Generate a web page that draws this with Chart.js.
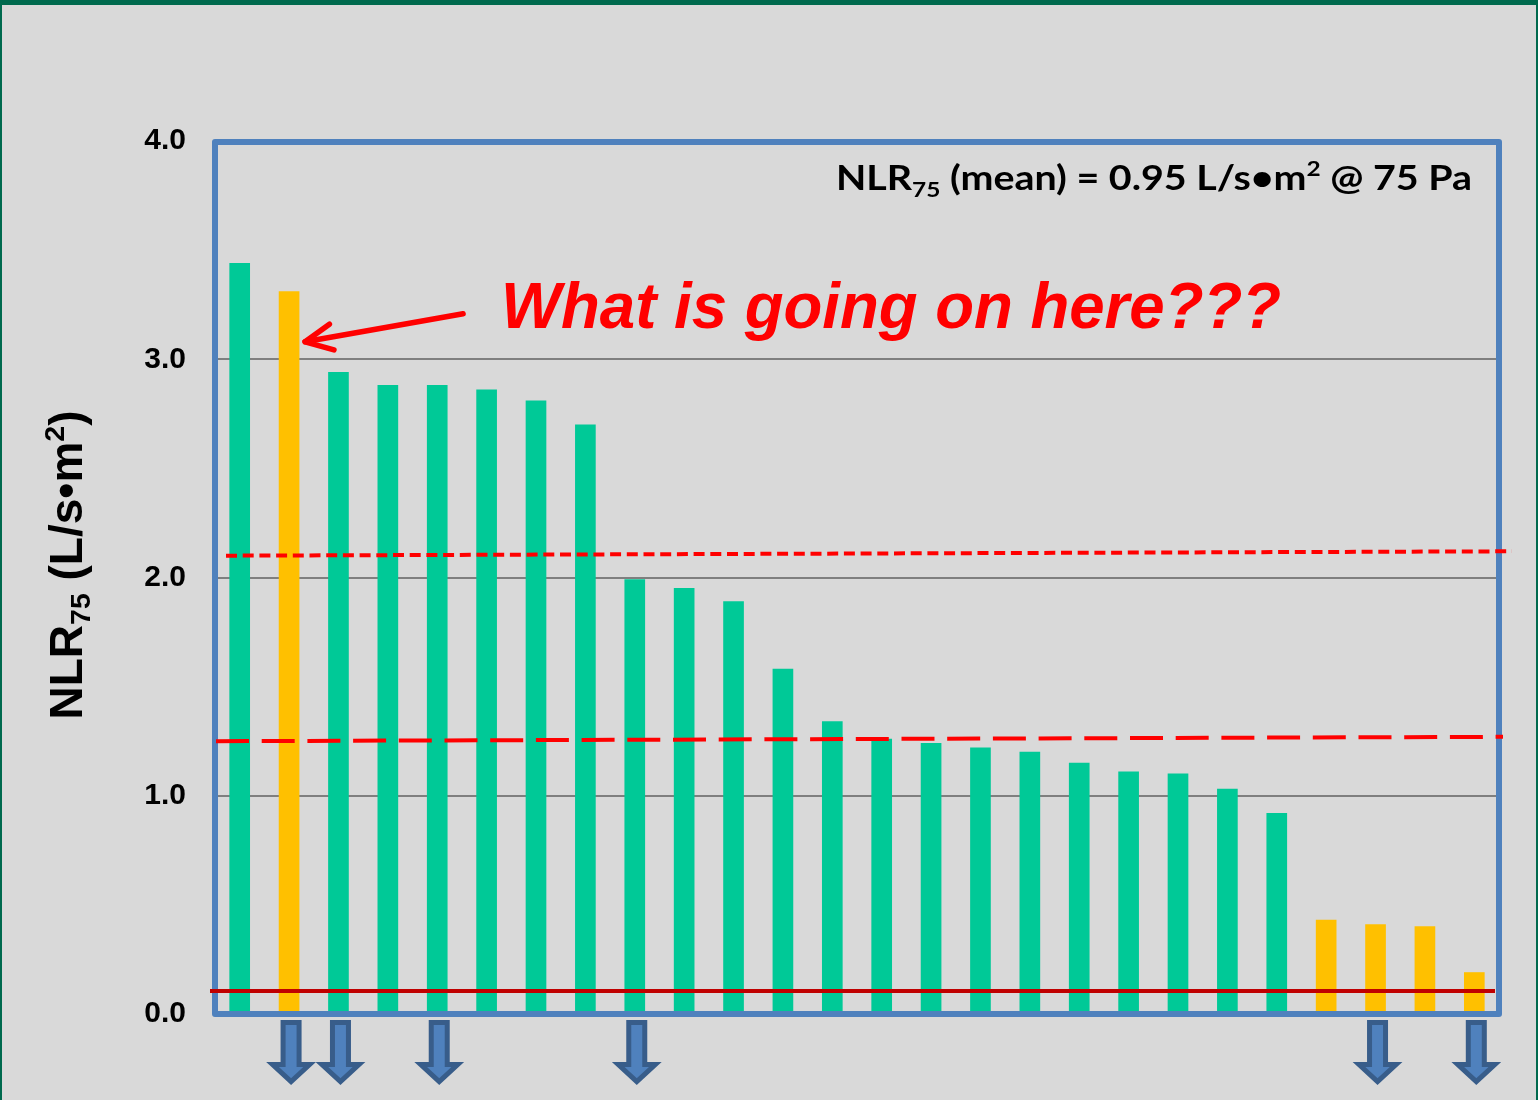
<!DOCTYPE html>
<html>
<head>
<meta charset="utf-8">
<title>NLR75 by house</title>
<script src="https://cdn.jsdelivr.net/npm/chart.js@4.4.1/dist/chart.umd.min.js"></script>
<style>
  html, body { margin: 0; padding: 0; background: #d9d9d9; overflow: hidden; }
  canvas { display: block; }
</style>
</head>
<body>
<canvas id="nlr" width="1538" height="1100"></canvas>
<script>
// Tested houses, sorted by normalized leakage ratio at 75 Pa
const houses = ['H01', 'H02', 'H03', 'H04', 'H05', 'H06', 'H07', 'H08', 'H09', 'H10', 'H11', 'H12', 'H13',
                'H14', 'H15', 'H16', 'H17', 'H18', 'H19', 'H20', 'H21', 'H22', 'H23', 'H24', 'H25', 'H26'];
const nlr75 = [3.44, 3.31, 2.94, 2.88, 2.88, 2.86, 2.81, 2.70, 1.99, 1.95, 1.89, 1.58, 1.34,
               1.26, 1.24, 1.22, 1.20, 1.15, 1.11, 1.10, 1.03, 0.92, 0.43, 0.41, 0.40, 0.19];
// houses shown in the second colour
const highlighted = [false, true, false, false, false, false, false, false, false, false, false, false, false,
                     false, false, false, false, false, false, false, false, false, true, true, true, true];
// houses marked with a down arrow under the axis
const arrowHouses = ['H02', 'H03', 'H05', 'H09', 'H24', 'H26'];
const yTicks = [0, 1, 2, 3, 4];
const meanNLR = 0.95;
const upperLimit = [2.10, 2.12];   // short-dash reference line (start, end)
const middleLimit = [1.25, 1.27];  // long-dash reference line (start, end)
const floorLimit = 0.105;          // solid reference line
const calloutValue = 3.08;         // where the callout arrow points on H02

const GREEN = '#00C997';
const ORANGE = '#FFC000';
const BLUE = '#4F81BD';
const DARK_BLUE = '#385D8A';

function drawRich(ctx, parts, size, family, weight, style) {
  // draws text runs (with sub/superscripts) starting at x = 0, baseline y = 0
  let x = 0;
  for (const p of parts) {
    const s = size * (p.s || 1);
    ctx.font = `${style || 'normal'} ${weight} ${s}px ${family}`;
    ctx.fillText(p.t, x, (p.dy || 0) * size);
    x += ctx.measureText(p.t).width;
  }
  return x;
}
function richWidth(ctx, parts, size, family, weight, style) {
  let w = 0;
  for (const p of parts) {
    ctx.font = `${style || 'normal'} ${weight} ${size * (p.s || 1)}px ${family}`;
    w += ctx.measureText(p.t).width;
  }
  return w;
}

function downArrow(ctx, cx, top) {
  const shaftW = 16, headW = 37, shaftH = 42, headH = 17;
  ctx.beginPath();
  ctx.moveTo(cx - shaftW / 2, top);
  ctx.lineTo(cx + shaftW / 2, top);
  ctx.lineTo(cx + shaftW / 2, top + shaftH);
  ctx.lineTo(cx + headW / 2, top + shaftH);
  ctx.lineTo(cx, top + shaftH + headH);
  ctx.lineTo(cx - headW / 2, top + shaftH);
  ctx.lineTo(cx - shaftW / 2, top + shaftH);
  ctx.closePath();
  ctx.fillStyle = BLUE;
  ctx.fill();
  ctx.lineWidth = 5;
  ctx.lineJoin = 'miter';
  ctx.strokeStyle = DARK_BLUE;
  ctx.stroke();
}

const pagePlugin = {
  id: 'page',
  beforeDraw(chart) {
    const { ctx, width, height } = chart;
    ctx.save();
    ctx.fillStyle = '#d9d9d9';
    ctx.fillRect(0, 0, width, height);
    ctx.fillStyle = '#006A4E';
    ctx.fillRect(0, 0, width, 5);
    ctx.fillRect(0, 0, 2, height);
    ctx.fillRect(width - 2, 0, 2, height);
    ctx.restore();
  }
};

const overlayPlugin = {
  id: 'overlay',
  afterDatasetsDraw(chart) {
    const { ctx, chartArea: a, scales: { y } } = chart;
    const meta = chart.getDatasetMeta(0);
    ctx.save();

    // plot frame
    ctx.strokeStyle = BLUE;
    ctx.lineWidth = 6;
    ctx.lineJoin = 'round';
    ctx.strokeRect(a.left, a.top + 1, a.right - a.left, a.bottom - a.top - 1);

    // reference lines
    ctx.strokeStyle = '#FF0000';
    ctx.lineWidth = 4;
    ctx.setLineDash([11, 5.7]);
    ctx.beginPath();
    ctx.moveTo(a.left + 11, y.getPixelForValue(upperLimit[0]));
    ctx.lineTo(a.right + 13, y.getPixelForValue(upperLimit[1]));
    ctx.stroke();
    ctx.setLineDash([33, 12.7]);
    ctx.beginPath();
    ctx.moveTo(a.left + 1, y.getPixelForValue(middleLimit[0]));
    ctx.lineTo(a.right + 4, y.getPixelForValue(middleLimit[1]));
    ctx.stroke();
    ctx.setLineDash([]);
    ctx.strokeStyle = '#C00000';
    ctx.beginPath();
    ctx.moveTo(a.left - 5, y.getPixelForValue(floorLimit));
    ctx.lineTo(a.right - 4, y.getPixelForValue(floorLimit));
    ctx.stroke();

    // down arrows under flagged houses
    arrowHouses.forEach(h => {
      const bar = meta.data[houses.indexOf(h)];
      downArrow(ctx, bar.x + 2, a.bottom + 8.5);
    });

    // callout arrow pointing at H02
    const target = meta.data[1];
    const tipX = target.x + 16, tipY = y.getPixelForValue(calloutValue);
    const tailX = tipX + 158, tailY = tipY - 28;
    const ang = Math.atan2(tailY - tipY, tailX - tipX);
    ctx.strokeStyle = '#FF0000';
    ctx.lineWidth = 5.5;
    ctx.lineCap = 'round';
    ctx.lineJoin = 'round';
    ctx.beginPath();
    ctx.moveTo(tailX, tailY);
    ctx.lineTo(tipX, tipY);
    ctx.stroke();
    ctx.beginPath();
    ctx.moveTo(tipX + 30 * Math.cos(ang - 0.45), tipY + 30 * Math.sin(ang - 0.45));
    ctx.lineTo(tipX, tipY);
    ctx.lineTo(tipX + 30 * Math.cos(ang + 0.45), tipY + 30 * Math.sin(ang + 0.45));
    ctx.stroke();

    // callout text
    ctx.fillStyle = '#FF0000';
    ctx.textBaseline = 'alphabetic';
    ctx.textAlign = 'left';
    const q = [{ t: 'What is going on here???' }];
    const qFont = "'Liberation Sans', Arial, sans-serif";
    const qw = richWidth(ctx, q, 64, qFont, 'bold', 'italic');
    ctx.save();
    ctx.translate(tailX + 38, a.top + 187);
    ctx.scale(780 / qw, 1);
    drawRich(ctx, q, 64, qFont, 'bold', 'italic');
    ctx.restore();

    // mean annotation, right aligned inside the frame
    ctx.fillStyle = '#000000';
    const m = [{ t: 'NLR' }, { t: '75', s: 0.62, dy: 0.2 },
               { t: ' (mean) = ' + meanNLR.toFixed(2) + ' L/s\u2022m' }, { t: '2', s: 0.62, dy: -0.4 },
               { t: ' @ 75 Pa' }];
    const mFont = "Lato, 'Open Sans', sans-serif";
    const mw = richWidth(ctx, m, 35, mFont, 'bold');
    const sx = 636 / mw;
    ctx.save();
    ctx.translate(a.right - 27 - 636, a.top + 49);
    ctx.scale(sx, 1);
    drawRich(ctx, m, 35, mFont, 'bold');
    ctx.restore();

    // y axis title
    const t = [{ t: 'NLR' }, { t: '75', s: 0.62, dy: 0.18 }, { t: ' (L/s\u2022m' }, { t: '2', s: 0.62, dy: -0.4 }, { t: ')' }];
    const tFont = "'Liberation Sans', Arial, sans-serif";
    const tw = richWidth(ctx, t, 46, tFont, 'bold');
    ctx.save();
    ctx.translate(82, 565);
    ctx.rotate(-Math.PI / 2);
    ctx.translate(-tw / 2, 0);
    drawRich(ctx, t, 46, tFont, 'bold');
    ctx.restore();

    ctx.restore();
  }
};

new Chart(document.getElementById('nlr'), {
  type: 'bar',
  data: {
    labels: houses,
    datasets: [{
      data: nlr75,
      backgroundColor: highlighted.map(h => h ? ORANGE : GREEN),
      barThickness: 20,
      borderWidth: 0
    }]
  },
  options: {
    responsive: false,
    animation: false,
    devicePixelRatio: 1,
    layout: { padding: { top: 141, right: 39, bottom: 86, left: 0 } },
    plugins: { legend: { display: false }, tooltip: { enabled: false } },
    scales: {
      x: { display: false },
      y: {
        min: yTicks[0],
        max: yTicks[yTicks.length - 1],
        afterFit(scale) { scale.width = 215; },
        afterBuildTicks(scale) { scale.ticks = yTicks.map(v => ({ value: v })); },
        border: { display: false },
        grid: {
          drawTicks: false,
          lineWidth: 2,
          color: c => (c.tick && c.tick.value > yTicks[0] && c.tick.value < yTicks[yTicks.length - 1]) ? '#7F7F7F' : 'rgba(0,0,0,0)'
        },
        ticks: {
          padding: 29,
          color: '#000000',
          font: { family: "'Liberation Sans', Arial, sans-serif", size: 30, weight: 'bold' },
          callback: v => Number(v).toFixed(1)
        }
      }
    }
  },
  plugins: [pagePlugin, overlayPlugin]
});
</script>
</body>
</html>
